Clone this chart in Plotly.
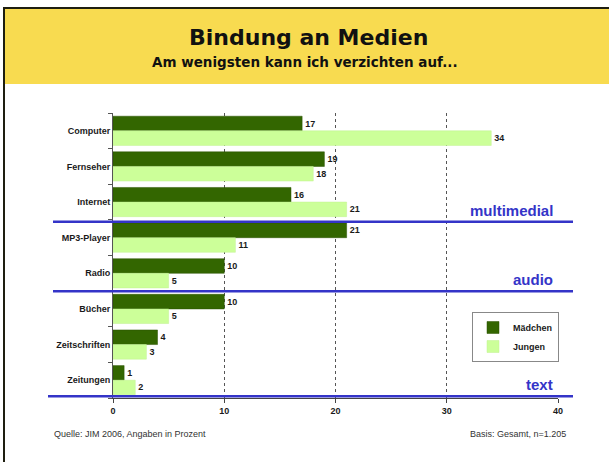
import plotly.graph_objects as go

W, H = 609, 462

categories = ["Computer", "Fernseher", "Internet", "MP3-Player", "Radio",
              "Bücher", "Zeitschriften", "Zeitungen"]
maedchen = [17, 19, 16, 21, 10, 10, 4, 1]
jungen = [34, 18, 21, 11, 5, 5, 3, 2]
x_ticks = [0, 10, 20, 30, 40]
groups = ["multimedial", "audio", "text"]
group_ends = [2.55, 4.5, 7.45]

def px(x):
    return x / W

def py(y):
    return 1 - y / H

DARK = "#336600"
LIGHT = "#ccff99"
BLUE = "#3434c8"
TXT = "#1a1a1a"
FONT = "Liberation Sans"

fig = go.Figure()
fig.add_trace(go.Bar(
    y=categories, x=maedchen, orientation="h", name="<b>Mädchen</b>",
    marker=dict(color=DARK, line=dict(color="#2a5200", width=0.5)),
    texttemplate="<b>%{x}</b>", textposition="outside",
    textfont=dict(family=FONT, size=9, color=TXT),
    cliponaxis=False,
))
fig.add_trace(go.Bar(
    y=categories, x=jungen, orientation="h", name="<b>Jungen</b>",
    marker=dict(color=LIGHT, line=dict(color="#c0f090", width=0.5)),
    texttemplate="<b>%{x}</b>", textposition="outside",
    textfont=dict(family=FONT, size=9, color=TXT),
    cliponaxis=False,
))

shapes = []
shapes.append(dict(type="rect", xref="paper", yref="paper",
                   x0=px(5), x1=1, y0=py(84), y1=py(9),
                   fillcolor="#f8db50", line=dict(width=0), layer="below"))
shapes.append(dict(type="rect", xref="paper", yref="paper",
                   x0=px(3), x1=1, y0=py(9), y1=py(7),
                   fillcolor="#1e1e10", line=dict(width=0)))
shapes.append(dict(type="rect", xref="paper", yref="paper",
                   x0=px(3), x1=px(5), y0=0, y1=py(7),
                   fillcolor="#1e1e10", line=dict(width=0)))
for i, yv in enumerate(group_ends):
    shapes.append(dict(type="line", xref="paper", yref="y",
                       x0=px(53 if i < 2 else 48), x1=px(573),
                       y0=yv, y1=yv,
                       line=dict(color=BLUE, width=2.5)))
fig.update_layout(shapes=shapes)

annotations = [
    dict(text="<b>Bindung an Medien</b>", x=px(308), y=py(38), xref="paper",
         yref="paper", xanchor="center", yanchor="middle", showarrow=False,
         font=dict(family="DejaVu Sans", size=22, color="#111")),
    dict(text="<b>Am wenigsten kann ich verzichten auf...</b>", x=px(305),
         y=py(62), xref="paper", yref="paper", xanchor="center",
         yanchor="middle", showarrow=False,
         font=dict(family="DejaVu Sans", size=13.5, color="#111")),
    dict(text="Quelle: JIM 2006, Angaben in Prozent", x=px(52), y=py(434),
         xref="paper", yref="paper", xanchor="left", yanchor="middle",
         showarrow=False, font=dict(family=FONT, size=9, color="#333")),
    dict(text="Basis: Gesamt, n=1.205", x=px(568), y=py(434),
         xref="paper", yref="paper", xanchor="right", yanchor="middle",
         showarrow=False, font=dict(family=FONT, size=9, color="#333")),
]
for g, yv in zip(groups, group_ends):
    annotations.append(dict(text="<b>" + g + "</b>", x=40, y=yv, xref="x",
                            yref="y", xanchor="right", yanchor="bottom",
                            xshift=-3, yshift=1, showarrow=False,
                            font=dict(family=FONT, size=15, color=BLUE)))
fig.update_layout(annotations=annotations)

fig.update_layout(
    width=W, height=H,
    margin=dict(l=0, r=0, t=0, b=0, autoexpand=False),
    paper_bgcolor="white", plot_bgcolor="white",
    barmode="group", bargap=0.18, bargroupgap=0,
    font=dict(family=FONT, size=9, color=TXT),
    xaxis=dict(domain=[px(113), px(558)], range=[0, 40],
               tickvals=x_ticks, ticktext=["<b>%d</b>" % t for t in x_ticks],
               showgrid=True, gridcolor="#555", griddash="dot", gridwidth=1,
               showline=True, linecolor="#444", linewidth=1,
               ticks="outside", ticklen=4, tickcolor="#444",
               tickfont=dict(family=FONT, size=9, color=TXT),
               zeroline=False, fixedrange=True, automargin=False),
    yaxis=dict(domain=[py(398), py(113)], range=[7.5, -0.5],
               autorange=False,
               categoryorder="array", categoryarray=categories,
               tickvals=categories,
               ticktext=["<b>%s</b>" % c for c in categories],
               showline=True, linecolor="#555", linewidth=1,
               ticks="outside", ticklen=4, tickcolor="#555",
               tickson="boundaries",
               tickfont=dict(family=FONT, size=9, color=TXT),
               showgrid=False, fixedrange=True, automargin=False),
    legend=dict(x=px(472), y=py(312), xanchor="left", yanchor="top",
                bgcolor="white", bordercolor="#888", borderwidth=1,
                font=dict(family=FONT, size=9, color=TXT),
                itemwidth=30),
    showlegend=True,
)

fig.write_html(
    "out.html",
    config={"displayModeBar": False},
    post_script="document.documentElement.style.overflow='hidden';"
                "document.body.style.margin='0';"
                "document.body.style.overflow='hidden';",
)
